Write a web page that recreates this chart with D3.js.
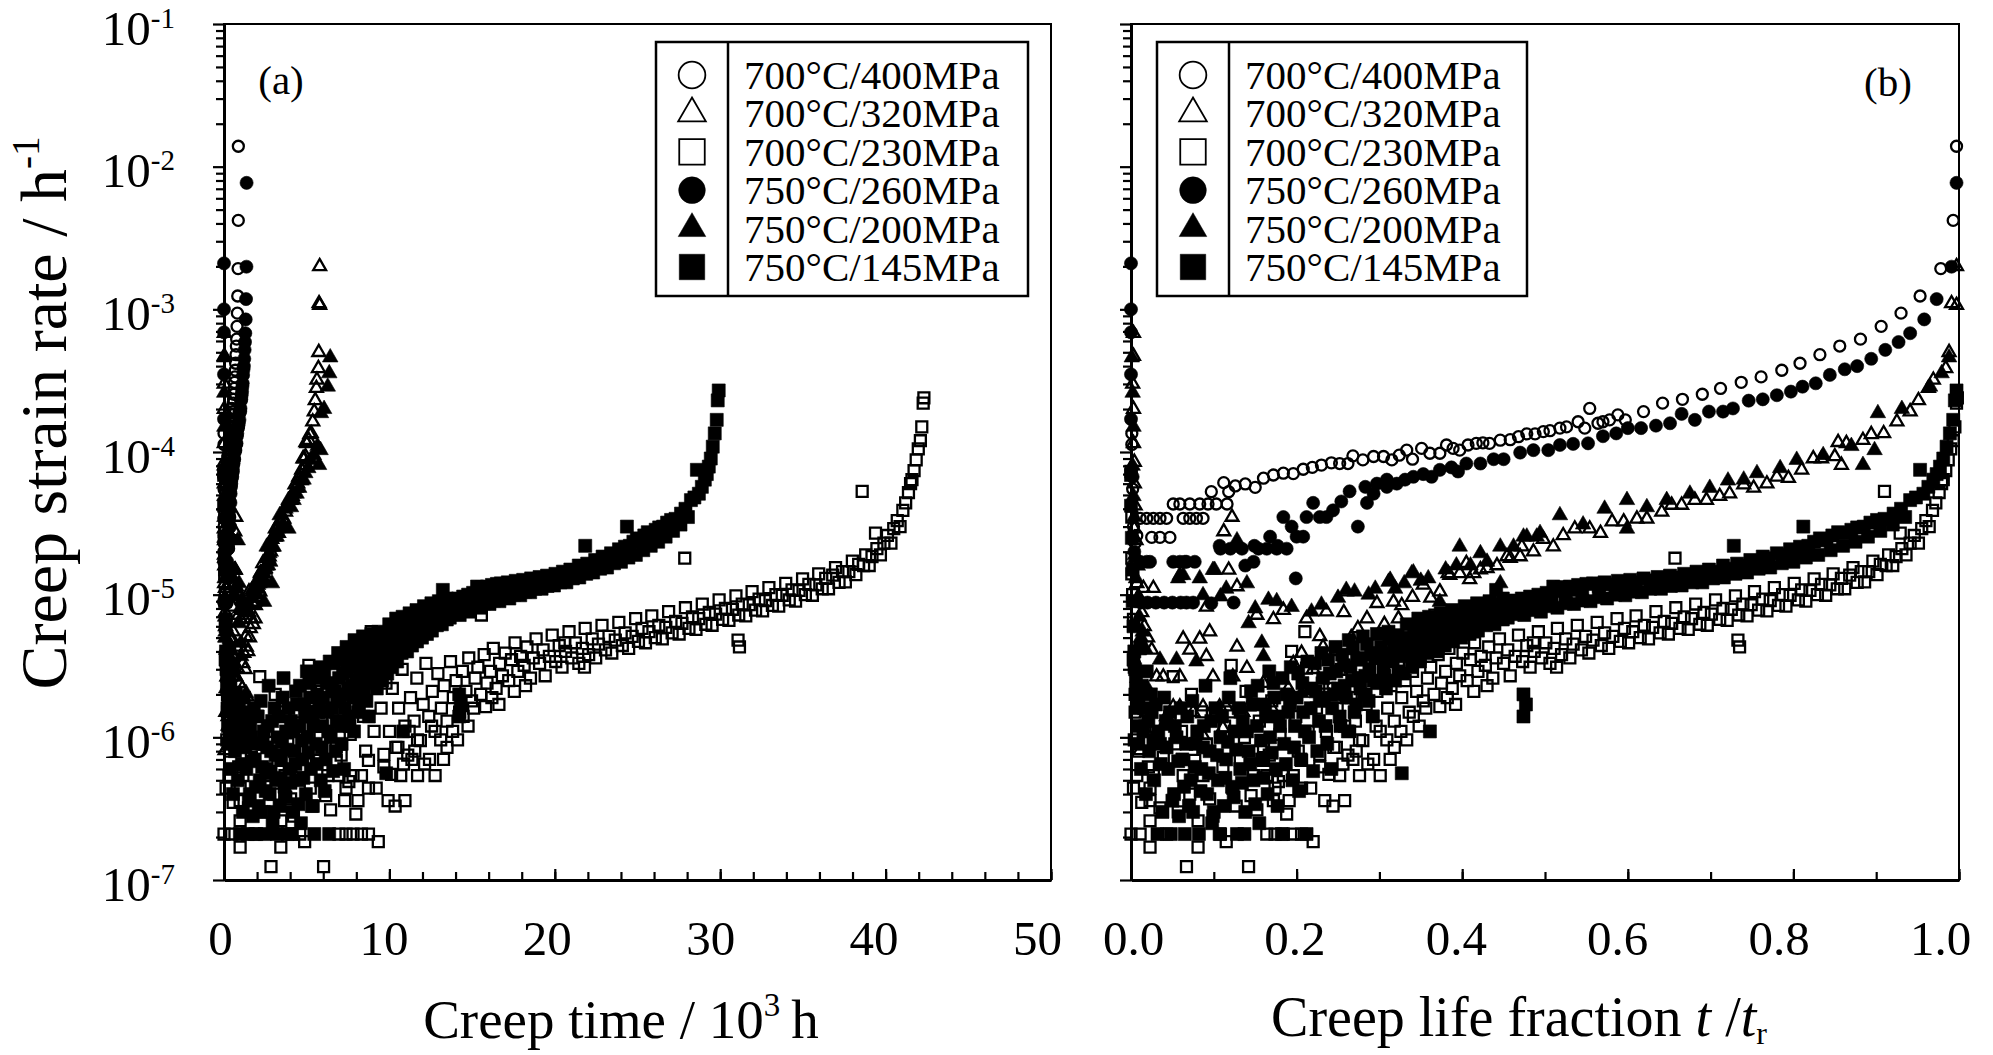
<!DOCTYPE html>
<html><head><meta charset="utf-8">
<script src="https://cdn.jsdelivr.net/npm/d3@7"></script>
<style>
body{margin:0;background:#fff;}
svg{display:block;}
text{font-family:"Liberation Serif","Times New Roman",serif;fill:#000;}
</style></head><body>
<svg id="chart" width="1993" height="1055"></svg>
<script>
// ---------------- DATA ----------------
const seriesNames = ["700°C/400MPa","700°C/320MPa","700°C/230MPa","750°C/260MPa","750°C/200MPa","750°C/145MPa"];
// rupture times (10^3 h)
const ruptureTimes = [0.87, 5.8, 42.4, 1.37, 6.5, 30.0];
// axis ticks / labels
const xTicksA = [0,10,20,30,40,50];
const xTicksB = [0,0.2,0.4,0.6,0.8,1.0];
const yTickExponents = [-7,-6,-5,-4,-3,-2,-1];

// [life fraction t/tr, creep strain rate (1/h)]
const s700_400 = [[0.001,1.35e-4],[0.001,1.13e-4],[0.002,5.5e-5],[0.003,3.0e-5],[0.005,2.3e-5],[0.007,2.6e-5],
[0.011,3.43e-5],[0.019,3.43e-5],[0.027,3.43e-5],[0.035,3.43e-5],[0.043,3.43e-5],[0.063,3.43e-5],[0.071,3.43e-5],[0.079,3.43e-5],[0.087,3.43e-5],
[0.025,2.52e-5],[0.035,2.52e-5],[0.047,2.52e-5],
[0.051,4.32e-5],[0.059,4.32e-5],[0.071,4.32e-5],[0.083,4.32e-5],[0.093,4.32e-5],[0.103,4.32e-5],[0.116,4.32e-5],
[0.097,5.27e-5],[0.112,6.1e-5],[0.118,5.27e-5],[0.126,5.78e-5],[0.138,5.97e-5],[0.150,5.65e-5],[0.160,6.55e-5],[0.172,6.9e-5],[0.184,7.1e-5],[0.196,7.05e-5],[0.208,7.57e-5],[0.219,7.8e-5],[0.230,8.1e-5],[0.242,8.4e-5],[0.252,8.3e-5],[0.262,8.3e-5],[0.268,9.4e-5],[0.280,8.8e-5],[0.293,9.3e-5],[0.305,9.3e-5],[0.315,8.8e-5],[0.324,9.5e-5],[0.333,1.03e-4],[0.340,8.9e-5],[0.351,1.06e-4],[0.361,9.8e-5],[0.373,9.8e-5],[0.381,1.12e-4],[0.389,1.06e-4],[0.397,1.03e-4],[0.407,1.12e-4],[0.417,1.15e-4],[0.425,1.16e-4],[0.433,1.15e-4],[0.446,1.21e-4],[0.458,1.22e-4],[0.468,1.28e-4],[0.478,1.34e-4],[0.488,1.34e-4],[0.498,1.39e-4],[0.506,1.41e-4],[0.518,1.47e-4],[0.526,1.5e-4],[0.540,1.63e-4],[0.548,1.47e-4],[0.554,2.02e-4],[0.564,1.59e-4],[0.570,1.63e-4],[0.578,1.68e-4],[0.588,1.82e-4],[0.597,1.68e-4],[0.619,1.92e-4],[0.642,2.2e-4],[0.666,2.34e-4],[0.690,2.54e-4],[0.712,2.79e-4],[0.737,3.08e-4],[0.761,3.36e-4],[0.786,3.74e-4],[0.808,4.19e-4],[0.832,4.81e-4],[0.856,5.53e-4],[0.881,6.18e-4],[0.906,7.6e-4],[0.930,9.4e-4],[0.953,1.24e-3],[0.978,1.93e-3],[0.993,4.2e-3],[0.997,1.39e-2]];

const s700_320 = [[0.003,6.8e-4],[0.003,4.7e-4],[0.002,3.0e-4],[0.003,2.0e-4],[0.003,1.15e-4],[0.004,8.5e-5],[0.004,6.0e-5],[0.005,4.2e-5],[0.004,2.9e-5],[0.006,2.4e-5],[0.005,1.9e-5],[0.008,1.6e-5],[0.007,1.2e-5],[0.010,9.5e-6],[0.013,7.5e-6],[0.016,6.0e-6],[0.020,5.0e-6],[0.015,1.11e-5],[0.027,1.11e-5],[0.025,4.1e-6],
[0.011,8.1e-7],[0.019,1.5e-6],[0.031,2.66e-6],[0.039,2.66e-6],[0.043,1.4e-6],[0.051,1.64e-6],[0.059,1.64e-6],[0.059,2.66e-6],[0.063,4.9e-6],[0.071,4.1e-6],[0.075,1.5e-6],[0.083,4.9e-6],[0.087,1.64e-6],[0.087,1.03e-6],[0.091,3.7e-6],[0.091,8.2e-6],[0.095,5.5e-6],[0.099,2.66e-6],[0.107,1.64e-6],[0.111,1.16e-6],[0.112,2.77e-5],[0.115,1.64e-6],[0.118,1.49e-5],[0.122,3.5e-5],[0.123,2.66e-6],[0.128,4.3e-6],[0.128,1.14e-5],[0.135,1.5e-6],[0.140,3.05e-6],[0.142,1.64e-6],[0.152,7.2e-6],[0.160,2.4e-6],[0.170,1.6e-6],[0.172,6.7e-6],[0.184,7.8e-6],[0.190,2.2e-6],[0.196,3.3e-6],[0.206,3.9e-6],[0.212,6.8e-6],[0.220,3.0e-6],[0.228,5.1e-6],[0.232,4.3e-6],[0.236,7.6e-6],[0.240,1.93e-6],[0.248,4.0e-6],[0.257,7.5e-6],[0.260,1.05e-5],[0.266,5.0e-6],[0.274,5.8e-6],[0.285,6.8e-6],[0.297,8.7e-6],[0.306,6.2e-6],[0.317,8.9e-6],[0.323,6.8e-6],[0.327,8.4e-6],[0.340,9.6e-6],[0.353,1.17e-5],[0.362,9.5e-6],[0.373,1.05e-5],[0.383,1.41e-5],[0.385,1.37e-5],[0.397,1.41e-5],[0.405,1.66e-5],[0.409,1.28e-5],[0.414,1.41e-5],[0.422,1.5e-5],[0.430,1.53e-5],[0.442,1.6e-5],[0.454,1.85e-5],[0.458,1.8e-5],[0.470,1.85e-5],[0.472,2.17e-5],[0.486,2.0e-5],[0.498,2.45e-5],[0.510,2.17e-5],[0.522,2.6e-5],[0.536,2.9e-5],[0.554,2.9e-5],[0.567,2.7e-5],[0.581,3.25e-5],[0.595,3.25e-5],[0.611,3.4e-5],[0.623,3.4e-5],[0.641,3.8e-5],[0.653,4.25e-5],[0.665,4.25e-5],[0.681,4.6e-5],[0.695,4.6e-5],[0.711,4.9e-5],[0.723,5.1e-5],[0.740,5.9e-5],[0.752,5.6e-5],[0.768,6.0e-5],[0.780,6.7e-5],[0.794,6.55e-5],[0.810,7.5e-5],[0.824,9.0e-5],[0.834,9.0e-5],[0.850,9.3e-5],[0.854,1.17e-4],[0.858,8.1e-5],[0.864,1.15e-4],[0.884,1.21e-4],[0.894,1.33e-4],[0.909,1.35e-4],[0.925,1.63e-4],[0.941,1.92e-4],[0.951,2.3e-4],[0.963,2.8e-4],[0.969,3.2e-4],[0.984,3.86e-4],[0.988,5.0e-4],[0.991,1.1e-3],[0.997,1.07e-3],[0.997,2.0e-3]];

const s700_230 = [[0.000,7.3e-5],[0.001,3.5e-5],[0.001,1.8e-5],[0.001,1.4e-5],[0.002,1.0e-5],[0.003,6.7e-6],[0.004,3.1e-6],[0.005,2.0e-6],[0.004,9.6e-7],[0.003,4.4e-7],[0.007,5.4e-7],[0.011,2.1e-7],[0.000,2.1e-7],
[0.005,1.5e-6],[0.009,8.0e-7],[0.013,3.5e-7],[0.017,1.2e-6],[0.021,6.2e-7],[0.031,1.0e-6],[0.039,7.2e-7],[0.043,2.1e-7],[0.047,1.4e-6],[0.057,3.0e-7],[0.061,1.1e-6],[0.071,4.0e-7],[0.073,2.0e-6],[0.091,9.0e-7],[0.099,2.8e-7],[0.111,6.2e-7],[0.113,1.2e-6],[0.127,3.3e-7],[0.137,1.0e-6],[0.139,2.1e-6],[0.145,3.9e-7],[0.155,1.3e-6],[0.167,7.5e-7],[0.170,1.8e-6],[0.178,4.9e-7],[0.180,1.05e-6],[0.191,3.6e-7],[0.199,1.4e-6],[0.202,8.0e-7],[0.214,1.1e-6],[0.217,4.4e-7],[0.224,1.6e-6],[0.231,2.4e-6],[0.239,5.5e-7],[0.248,8.5e-7],[0.256,6.5e-7],[0.264,1.1e-6],[0.272,8.0e-7],[0.286,6.5e-7],[0.296,1.2e-6],[0.318,8.5e-7],[0.326,1.1e-6],[0.348,1.2e-6],[0.356,1.6e-6],[0.382,1.9e-6],[0.392,1.7e-6],
[0.023,1.7e-7],[0.023,2.6e-7],[0.023,3.6e-7],[0.023,4.4e-7],[0.027,5.4e-7],[0.035,3.2e-7],[0.051,2.66e-6],[0.053,9.0e-7],[0.063,5.4e-7],[0.067,1.24e-7],[0.077,6.9e-7],[0.081,1.7e-7],[0.081,2.6e-7],[0.085,1.51e-6],[0.087,5.4e-7],[0.095,3.7e-7],[0.103,1.51e-6],[0.108,2.1e-7],[0.115,1.86e-7],[0.120,1.51e-6],[0.121,3.2e-6],[0.123,4.4e-7],[0.132,6.9e-7],[0.132,1.51e-6],[0.142,1.24e-7],[0.148,5.4e-7],[0.152,3.1e-7],[0.160,6.9e-7],[0.160,8.6e-7],[0.164,2.1e-7],[0.164,5.4e-7],[0.172,3.6e-7],[0.174,2.1e-7],[0.174,4.4e-7],[0.184,2.1e-7],[0.184,5.4e-7],[0.188,2.9e-7],[0.194,4.0e-6],[0.196,2.1e-7],[0.196,5.4e-7],[0.206,2.1e-7],[0.206,4.4e-7],[0.206,6.9e-7],[0.210,5.5e-6],[0.212,3.05e-6],[0.220,1.86e-7],[0.228,6.2e-7],[0.228,7.6e-7],[0.234,3.6e-7],[0.244,3.3e-7],[0.252,5.4e-7],[0.258,3.6e-7],[0.268,7.0e-7],[0.276,5.4e-7],[0.276,9.6e-7],[0.293,7.0e-7],[0.301,5.4e-7],[0.309,9.6e-7],[0.313,7.0e-7],[0.333,9.6e-7],[0.341,1.4e-6],[0.367,7.2e-6],
[0.236,1.1e-6],[0.240,2.2e-6],[0.245,8.5e-7],[0.249,1.6e-6],[0.254,3.0e-6],[0.258,1.2e-6],[0.262,7.5e-7],[0.266,1.9e-6],[0.271,1.3e-6],[0.275,2.6e-6],[0.280,9.5e-7],[0.284,1.7e-6],[0.288,3.3e-6],[0.292,1.4e-6],[0.297,2.1e-6],[0.301,1.1e-6],[0.305,2.8e-6],[0.310,1.6e-6],[0.314,2.3e-6],[0.318,1.3e-6],[0.323,3.4e-6],[0.327,1.9e-6],[0.331,2.5e-6],[0.336,1.5e-6],[0.340,2.9e-6],[0.345,2.1e-6],[0.349,3.6e-6],[0.353,1.8e-6],[0.358,2.6e-6],[0.362,3.1e-6],[0.366,2.0e-6],[0.371,3.8e-6],[0.373,1.64e-6],[0.375,2.4e-6],[0.380,2.9e-6],[0.384,4.2e-6],[0.388,2.2e-6],[0.393,3.3e-6],[0.397,2.7e-6],[0.401,3.9e-6],[0.406,2.5e-6],[0.410,3.5e-6],[0.414,2.1e-6],[0.415,4.6e-6],[0.419,2.9e-6],[0.423,3.7e-6],[0.428,3.2e-6],[0.430,2.3e-6],[0.432,4.3e-6],[0.437,2.6e-6],[0.441,3.6e-6],[0.445,4.9e-6],[0.450,3.3e-6],
[0.455,4.1e-6],[0.458,2.7e-6],[0.464,3.7e-6],[0.468,5.2e-6],[0.473,3.4e-6],[0.478,4.4e-6],[0.482,3.1e-6],[0.486,4.6e-6],[0.487,4.0e-6],[0.492,5.5e-6],[0.496,3.6e-6],[0.501,4.6e-6],[0.506,3.3e-6],[0.511,4.2e-6],[0.514,3.1e-6],[0.515,5.8e-6],[0.520,3.8e-6],[0.525,4.9e-6],[0.530,3.6e-6],[0.534,4.5e-6],[0.539,6.1e-6],[0.544,4.1e-6],[0.549,5.1e-6],[0.553,3.9e-6],[0.558,4.8e-6],[0.563,6.4e-6],[0.568,4.4e-6],[0.572,5.4e-6],[0.577,4.2e-6],[0.582,5.1e-6],[0.587,6.8e-6],[0.591,4.7e-6],[0.596,5.8e-6],[0.601,4.6e-6],[0.606,5.5e-6],[0.610,7.1e-6],[0.615,5.0e-6],[0.620,6.1e-6],[0.625,4.9e-6],[0.630,5.9e-6],[0.634,7.6e-6],[0.639,5.4e-6],[0.644,6.5e-6],[0.649,5.3e-6],[0.653,6.3e-6],[0.657,1.8e-5],[0.658,8.1e-6],[0.663,5.8e-6],[0.668,7.0e-6],[0.673,5.7e-6],[0.677,6.8e-6],[0.682,8.6e-6],[0.687,6.2e-6],[0.692,7.5e-6],[0.696,6.1e-6],[0.701,7.3e-6],[0.706,9.2e-6],[0.711,6.7e-6],[0.715,8.0e-6],[0.720,6.6e-6],[0.725,7.9e-6],[0.730,9.8e-6],[0.733,4.8e-6],[0.735,4.3e-6],[0.734,7.2e-6],[0.739,8.6e-6],[0.744,7.1e-6],[0.749,8.5e-6],[0.753,1.05e-5],[0.758,7.8e-6],[0.763,9.3e-6],[0.768,7.7e-6],[0.772,9.1e-6],[0.777,1.12e-5],[0.782,8.4e-6],[0.787,1.0e-5],[0.791,8.3e-6],[0.796,9.9e-6],[0.801,1.2e-5],[0.806,9.2e-6],[0.810,1.08e-5],[0.815,9.0e-6],[0.820,1.07e-5],[0.825,1.29e-5],[0.829,1.0e-5],[0.834,1.18e-5],[0.839,9.9e-6],[0.844,1.17e-5],[0.848,1.4e-5],[0.853,1.1e-5],[0.858,1.3e-5],[0.862,1.1e-5],[0.868,1.37e-5],[0.872,1.55e-5],[0.877,1.22e-5],[0.882,1.45e-5],[0.886,1.23e-5],[0.891,1.45e-5],[0.896,1.72e-5],[0.901,1.38e-5],[0.905,1.63e-5],[0.910,5.3e-5],[0.912,1.6e-5],[0.915,1.9e-5],[0.920,1.6e-5],[0.924,1.85e-5],[0.929,2.7e-5],[0.931,2.1e-5],[0.936,1.9e-5],[0.941,2.3e-5],[0.946,2.6e-5],[0.951,2.3e-5],[0.955,2.9e-5],[0.960,3.3e-5],[0.964,3.0e-5],[0.968,3.9e-5],[0.972,4.4e-5],[0.976,5.2e-5],[0.979,6.0e-5],[0.981,6.4e-5],[0.984,7.4e-5],[0.987,8.8e-5],[0.990,1.05e-4],[0.993,1.2e-4],[0.995,1.5e-4],[0.997,2.2e-4],[0.998,2.4e-4]];

const s750_260 = [[0.0,2.1e-3],[0.0,1.0e-3],[0.0,6.9e-4],[0.0,3.5e-4],[0.0,1.7e-4],[0.002,6.7e-5],[0.004,2.0e-5],[0.006,9.0e-6],
[0.012,8.8e-6],[0.020,8.8e-6],[0.030,8.8e-6],[0.040,8.8e-6],[0.050,8.8e-6],[0.060,8.8e-6],[0.067,8.8e-6],[0.075,8.8e-6],
[0.011,1.7e-5],[0.019,1.7e-5],[0.023,1.7e-5],[0.051,1.7e-5],[0.059,1.7e-5],[0.065,1.7e-5],[0.067,1.7e-5],[0.077,1.7e-5],
[0.097,8.7e-6],[0.124,8.8e-6],[0.107,2.2e-5],[0.108,2.1e-5],[0.120,2.1e-5],[0.128,2.2e-5],[0.134,2.1e-5],[0.138,1.6e-5],[0.148,1.7e-5],[0.149,2.2e-5],[0.154,2.1e-5],[0.164,2.1e-5],[0.168,2.55e-5],[0.176,2.1e-5],[0.177,2.2e-5],[0.184,3.5e-5],[0.188,2.1e-5],[0.194,3.0e-5],[0.199,1.3e-5],[0.200,2.55e-5],[0.208,2.55e-5],[0.212,3.5e-5],[0.220,4.4e-5],[0.228,3.5e-5],[0.236,3.5e-5],[0.244,3.9e-5],[0.254,4.5e-5],[0.264,5.3e-5],[0.274,3.0e-5],[0.283,5.7e-5],[0.285,4.4e-5],[0.293,5.1e-5],[0.297,6.0e-5],[0.309,5.7e-5],[0.309,6.4e-5],[0.321,6.0e-5],[0.331,6.4e-5],[0.341,6.7e-5],[0.353,7.0e-5],[0.363,6.7e-5],[0.373,7.5e-5],[0.387,7.8e-5],[0.395,7.3e-5],[0.405,8.3e-5],[0.422,8.3e-5],[0.438,8.9e-5],[0.450,8.9e-5],[0.470,9.9e-5],[0.486,1.03e-4],[0.504,1.03e-4],[0.518,1.12e-4],[0.534,1.14e-4],[0.552,1.15e-4],[0.570,1.29e-4],[0.586,1.35e-4],[0.600,1.47e-4],[0.616,1.47e-4],[0.634,1.53e-4],[0.651,1.59e-4],[0.665,1.85e-4],[0.681,1.68e-4],[0.698,1.92e-4],[0.715,1.92e-4],[0.727,2.02e-4],[0.746,2.29e-4],[0.763,2.34e-4],[0.780,2.5e-4],[0.797,2.65e-4],[0.811,2.87e-4],[0.827,3.03e-4],[0.844,3.47e-4],[0.862,3.8e-4],[0.877,4.0e-4],[0.894,4.5e-4],[0.911,5.2e-4],[0.927,5.9e-4],[0.941,6.8e-4],[0.958,8.5e-4],[0.973,1.18e-3],[0.991,1.99e-3],[0.997,7.7e-3]];

const s750_200 = [[0.001,4.6e-4],[0.002,2.6e-4],[0.003,1.5e-4],[0.002,8.0e-5],[0.003,4.9e-5],[0.004,3.5e-5],[0.004,2.5e-5],[0.005,1.8e-5],[0.006,1.3e-5],[0.008,9.5e-6],[0.010,7.0e-6],[0.012,5.0e-6],[0.014,5.5e-6],[0.017,4.2e-6],[0.020,2.2e-6],
[0.035,3.5e-6],[0.039,1.2e-6],[0.055,3.5e-6],[0.057,1.3e-5],[0.059,1.37e-5],[0.063,1.37e-5],[0.079,3.4e-6],[0.083,1.3e-5],[0.087,9.9e-6],[0.099,1.49e-5],[0.101,1.49e-5],[0.108,9.7e-6],[0.115,1.1e-5],[0.128,2.4e-5],[0.140,1.2e-5],[0.142,6.3e-6],[0.150,8.0e-6],[0.158,4.6e-6],[0.160,3.7e-6],[0.166,9.2e-6],[0.176,9.0e-6],[0.194,8.2e-6],[0.206,2.04e-6],[0.218,7.6e-6],[0.230,8.5e-6],[0.250,9.5e-6],[0.260,1.08e-5],[0.270,1.05e-5],[0.287,1.0e-5],[0.295,1.1e-5],[0.311,1.23e-5],[0.313,1.27e-5],[0.319,1.1e-5],[0.330,1.2e-5],[0.339,1.41e-5],[0.341,1.43e-5],[0.350,1.25e-5],[0.359,1.3e-5],[0.373,8.9e-6],[0.380,1.5e-5],[0.393,1.6e-5],[0.397,2.17e-5],[0.410,1.6e-5],[0.422,1.95e-5],[0.430,1.7e-5],[0.446,2.17e-5],[0.446,1.2e-5],[0.462,2.17e-5],[0.474,2.55e-5],[0.478,2.55e-5],[0.490,2.55e-5],[0.494,2.7e-5],[0.518,3.6e-5],[0.546,3.1e-5],[0.572,4.0e-5],[0.599,4.6e-5],[0.599,2.9e-5],[0.623,4.1e-5],[0.647,4.6e-5],[0.675,5.1e-5],[0.699,5.6e-5],[0.721,6.3e-5],[0.740,6.4e-5],[0.756,7.1e-5],[0.784,7.7e-5],[0.804,8.8e-5],[0.836,9.5e-5],[0.870,1.1e-4],[0.884,8.1e-5],[0.898,1.03e-4],[0.902,1.87e-4],[0.931,2.0e-4],[0.965,2.87e-4],[0.979,3.56e-4],[0.988,4.6e-4]];

const s750_145 = [[0.000,6.9e-5],[0.000,4.2e-5],[0.001,2.5e-5],[0.002,1.5e-5],[0.002,9.0e-6],[0.003,6.0e-6],[0.004,4.0e-6],[0.005,3.0e-6],[0.006,2.2e-6],[0.007,1.6e-6],[0.008,1.2e-6],[0.009,9.0e-7],
[0.003,3.5e-6],[0.006,2.7e-6],[0.009,1.9e-6],[0.011,4.2e-6],[0.013,2.3e-6],[0.016,1.6e-6],[0.019,2.9e-6],[0.021,1.3e-6],[0.024,2.0e-6],[0.027,9.5e-7],[0.030,1.7e-6],[0.033,1.1e-6],[0.036,6.5e-7],[0.040,1.9e-6],[0.043,8.5e-7],[0.047,1.5e-6],[0.050,3.6e-7],[0.053,1.2e-6],[0.057,6.8e-7],[0.060,1.6e-6],[0.064,4.5e-7],[0.067,9.0e-7],[0.070,3.3e-7],[0.074,1.8e-6],[0.077,6.2e-7],[0.080,1.1e-6],[0.084,4.2e-7],[0.087,8.5e-7],[0.090,2.3e-6],[0.094,5.6e-7],[0.097,1.3e-6],[0.100,3.0e-7],[0.104,7.5e-7],[0.107,2.1e-7],[0.110,1.4e-6],[0.114,5.2e-7],[0.117,9.3e-7],[0.120,2.6e-6],[0.124,3.8e-7],[0.127,8.2e-7],[0.130,1.6e-6],[0.134,4.8e-7],[0.137,2.1e-7],[0.140,1.1e-6],[0.144,6.5e-7],[0.147,1.7e-6],[0.150,3.4e-7],
[0.012,6.0e-7],[0.015,1.1e-6],[0.018,4.0e-7],[0.022,8.0e-7],[0.025,1.5e-6],[0.028,5.0e-7],[0.032,2.1e-7],[0.035,9.0e-7],[0.038,3.0e-7],[0.042,1.3e-6],[0.045,6.0e-7],[0.048,2.1e-7],[0.052,4.0e-7],[0.055,1.0e-6],[0.058,2.8e-7],[0.062,7.0e-7],[0.065,2.1e-7],[0.068,1.4e-6],[0.072,5.0e-7],[0.075,3.0e-7],[0.078,9.0e-7],[0.082,2.1e-7],[0.085,6.0e-7],[0.088,1.2e-6],[0.092,4.0e-7],[0.095,8.0e-7],[0.098,2.5e-7],[0.102,1.6e-6],[0.105,5.0e-7],[0.108,1.0e-6],[0.112,3.3e-7],[0.115,7.0e-7],[0.118,1.9e-6],[0.122,4.5e-7],[0.125,1.1e-6],[0.128,2.1e-7],[0.132,6.0e-7],[0.135,1.3e-6],[0.138,3.0e-7],[0.142,8.0e-7],[0.145,2.1e-6],[0.148,5.0e-7],
[0.153,2.3e-6],[0.157,9.5e-7],[0.160,5.2e-7],[0.163,1.4e-6],[0.167,2.9e-6],[0.170,7.8e-7],[0.173,1.9e-6],[0.177,3.3e-7],[0.180,1.2e-6],[0.183,2.6e-6],[0.187,6.5e-7],[0.190,1.5e-6],[0.193,3.1e-6],[0.197,8.5e-7],[0.200,1.9e-6],[0.203,4.2e-7],[0.207,2.4e-6],[0.210,1.1e-6],[0.213,3.4e-6],[0.217,1.6e-6],[0.220,5.8e-7],[0.223,2.1e-6],[0.227,1.3e-6],[0.230,3.9e-6],[0.233,1.9e-6],[0.237,9.0e-7],[0.240,2.8e-6],[0.243,1.6e-6],[0.247,4.3e-6],[0.250,2.2e-6],[0.253,1.2e-6],[0.257,3.2e-6],[0.260,1.9e-6],[0.263,4.8e-6],[0.267,2.5e-6],[0.270,1.5e-6],[0.273,3.5e-6],[0.277,2.2e-6],[0.280,5.1e-6],[0.283,2.7e-6],[0.287,1.8e-6],[0.290,3.8e-6],[0.293,2.5e-6],[0.297,5.3e-6],
[0.152,1.2e-6],[0.155,2.5e-7],[0.158,7.0e-7],[0.162,1.7e-6],[0.165,4.0e-7],[0.168,1.0e-6],[0.172,2.4e-6],[0.175,6.0e-7],[0.178,1.4e-6],[0.182,2.1e-7],[0.185,9.0e-7],[0.188,2.0e-6],[0.192,1.73e-6],[0.195,5.0e-7],[0.198,1.2e-6],[0.202,2.8e-6],[0.205,7.0e-7],[0.208,1.5e-6],[0.212,2.1e-7],[0.215,1.0e-6],[0.218,2.2e-6],[0.222,3.3e-6],[0.225,8.0e-7],[0.228,1.8e-6],[0.232,2.6e-6],[0.235,1.2e-6],[0.238,3.5e-6],[0.242,6.0e-7],[0.245,2.0e-6],[0.248,2.9e-6],[0.252,1.4e-6],[0.255,3.8e-6],[0.258,2.3e-6],[0.262,1.1e-6],[0.265,3.1e-6],[0.268,4.2e-6],[0.272,1.7e-6],[0.275,2.6e-6],[0.278,3.6e-6],[0.282,2.0e-6],[0.285,4.5e-6],[0.288,3.0e-6],[0.292,1.4e-6],[0.295,3.6e-6],[0.297,3.9e-6],[0.298,2.4e-6],
[0.301,3.6e-6],[0.306,2.7e-6],[0.311,5.5e-6],[0.314,3.9e-6],[0.318,4.6e-6],[0.323,2.9e-6],[0.328,4.4e-6],[0.333,6.2e-6],[0.337,3.8e-6],[0.343,4.9e-6],[0.347,6.8e-6],[0.351,4.1e-6],[0.356,5.3e-6],[0.360,7.0e-6],[0.365,4.5e-6],[0.370,5.7e-6],[0.374,7.4e-6],[0.378,5.0e-6],[0.383,6.1e-6],[0.388,7.8e-6],[0.393,5.5e-6],[0.398,6.6e-6],[0.403,8.3e-6],[0.408,6.0e-6],[0.413,7.0e-6],[0.418,8.7e-6],[0.423,6.5e-6],[0.428,7.5e-6],[0.433,9.0e-6],[0.438,7.0e-6],[0.444,7.9e-6],[0.449,9.4e-6],
[0.302,4.3e-6],[0.305,3.1e-6],[0.308,2.2e-6],[0.312,4.9e-6],[0.316,3.4e-6],[0.319,2.5e-6],[0.322,5.2e-6],[0.325,3.7e-6],[0.327,5.6e-7],[0.329,2.8e-6],[0.332,5.0e-6],[0.336,4.2e-6],[0.339,3.1e-6],[0.342,5.8e-6],[0.346,4.3e-6],[0.349,3.4e-6],[0.352,6.1e-6],[0.355,4.6e-6],[0.358,3.9e-6],[0.361,1.1e-6],[0.363,5.8e-6],[0.366,5.1e-6],[0.369,4.0e-6],[0.371,6.5e-6],[0.375,5.5e-6],[0.379,4.4e-6],[0.382,6.9e-6],[0.386,5.4e-6],[0.389,4.7e-6],[0.392,7.2e-6],[0.396,6.0e-6],[0.399,5.0e-6],[0.402,7.1e-6],[0.406,6.3e-6],[0.409,5.3e-6],[0.412,7.7e-6],[0.416,6.4e-6],[0.419,5.6e-6],[0.422,8.0e-6],[0.426,6.6e-6],[0.429,6.1e-6],[0.432,8.1e-6],[0.436,7.2e-6],[0.439,6.2e-6],[0.441,1.08e-5],[0.443,8.6e-6],[0.446,7.3e-6],[0.449,6.7e-6],
[0.455,6.9e-6],[0.465,7.3e-6],[0.475,7.2e-6],[0.485,7.8e-6],[0.495,7.6e-6],[0.505,8.3e-6],[0.515,8.1e-6],[0.525,8.7e-6],[0.535,8.6e-6],[0.545,9.1e-6],[0.555,9.0e-6],[0.565,9.6e-6],[0.575,9.4e-6],[0.585,1.0e-5],[0.597,9.9e-6],[0.607,1.05e-5],[0.617,1.04e-5],[0.627,1.1e-5],[0.640,1.1e-5],[0.652,1.15e-5],[0.665,1.16e-5],[0.678,1.22e-5],[0.690,1.22e-5],[0.703,1.3e-5],[0.716,1.32e-5],[0.730,1.4e-5],[0.744,1.43e-5],[0.758,1.52e-5],[0.772,1.55e-5],[0.786,1.66e-5],[0.800,1.7e-5],[0.815,1.82e-5],[0.830,1.9e-5],[0.845,2.05e-5],[0.860,2.2e-5],[0.875,2.35e-5],[0.890,2.55e-5],[0.905,2.8e-5],[0.920,3.1e-5],[0.935,3.5e-5],
[0.452,8.8e-6],[0.458,7.8e-6],[0.462,9.1e-6],[0.468,8.2e-6],[0.472,9.4e-6],[0.474,2.0e-6],[0.474,1.4e-6],[0.477,1.7e-6],[0.478,8.6e-6],[0.482,9.7e-6],[0.488,9.0e-6],[0.492,1.0e-5],[0.498,9.3e-6],[0.502,1.03e-5],[0.508,9.6e-6],[0.510,1.14e-5],[0.515,1.06e-5],[0.520,1.13e-5],[0.525,1.0e-5],[0.530,1.14e-5],[0.535,1.08e-5],[0.540,1.17e-5],[0.545,1.1e-5],[0.550,1.19e-5],[0.558,1.2e-5],[0.565,1.15e-5],[0.572,1.22e-5],[0.580,1.18e-5],[0.588,1.25e-5],[0.595,1.2e-5],[0.603,1.27e-5],[0.610,1.22e-5],[0.619,1.3e-5],[0.628,1.26e-5],[0.636,1.33e-5],[0.645,1.3e-5],[0.651,1.36e-5],[0.660,1.32e-5],[0.668,1.4e-5],[0.675,1.36e-5],[0.683,1.45e-5],[0.690,1.4e-5],[0.698,1.5e-5],[0.706,1.45e-5],[0.715,1.6e-5],[0.722,1.52e-5],[0.728,2.2e-5],[0.732,1.65e-5],[0.740,1.6e-5],[0.748,1.75e-5],[0.755,1.7e-5],[0.763,1.85e-5],[0.770,1.8e-5],[0.780,1.95e-5],[0.788,1.9e-5],[0.796,2.08e-5],[0.804,2.0e-5],[0.808,2.17e-5],[0.812,3.0e-5],[0.818,2.2e-5],[0.825,2.35e-5],[0.832,2.48e-5],[0.840,2.4e-5],[0.847,2.6e-5],[0.854,2.74e-5],[0.862,2.7e-5],[0.870,2.85e-5],[0.877,2.96e-5],[0.885,3.0e-5],[0.893,3.2e-5],[0.901,3.34e-5],[0.910,3.4e-5],[0.921,3.7e-5],[0.930,4.0e-5],[0.941,4.6e-5],[0.948,4.8e-5],[0.953,7.5e-5],[0.957,5.1e-5],[0.963,5.7e-5],[0.969,6.4e-5],[0.973,7.0e-5],[0.977,7.9e-5],[0.981,9.0e-5],[0.985,1.09e-4],[0.989,1.35e-4],[0.993,1.68e-4],[0.995,2.3e-4],[0.997,2.7e-4]];

const seriesData = [s700_400, s700_320, s700_230, s750_260, s750_200, s750_145];

// ---------------- DRAWING ----------------
const svg = d3.select("#chart");
const yTop = 24, yBot = 880;
const y = d3.scaleLog().domain([1e-7, 1e-1]).range([yBot, yTop]);
const xA = d3.scaleLinear().domain([0, 50]).range([224, 1051]);
const xB = d3.scaleLinear().domain([0, 1]).range([1131, 1959]);
// label positions in the original are slightly compressed relative to the ticks
const xALab = d3.scaleLinear().domain([0, 50]).range([220, 1037]);
const xBLab = d3.scaleLinear().domain([0, 1]).range([1133, 1940]);

const styles = [
  {sym: d3.symbolCircle,   fill: false, size: 95},
  {sym: d3.symbolTriangle, fill: false, size: 72},
  {sym: d3.symbolSquare,   fill: false, size: 120},
  {sym: d3.symbolCircle,   fill: true,  size: 135},
  {sym: d3.symbolTriangle, fill: true,  size: 105},
  {sym: d3.symbolSquare,   fill: true,  size: 170},
];

const minorY = [];
for (let e = -7; e < -1; e++) for (let m = 2; m <= 9; m++) minorY.push(m * Math.pow(10, e));
const decades = yTickExponents.map(e => Math.pow(10, e));

function drawPanel(x, xLab, xMajor, xMinor, fmt, getX) {
  const x0 = x.range()[0], x1 = x.range()[1];
  const g = svg.append("g");
  g.append("rect").attr("x", x0).attr("y", yTop).attr("width", x1 - x0).attr("height", yBot - yTop)
    .attr("fill", "none").attr("stroke", "#000").attr("stroke-width", 2);
  g.append("g").attr("transform", `translate(0,${yBot})`)
    .call(d3.axisBottom(x).tickValues(xMinor).tickSize(-8).tickSizeOuter(0).tickFormat(""))
    .call(s => { s.select(".domain").remove(); s.selectAll("line").attr("stroke-width", 2.2); });
  g.append("g").attr("transform", `translate(0,${yBot})`)
    .call(d3.axisBottom(x).tickValues(xMajor).tickSize(-11).tickSizeOuter(0).tickFormat(""))
    .call(s => { s.select(".domain").attr("stroke-width", 3); s.selectAll("line").attr("stroke-width", 2.2); });
  g.append("g").attr("transform", `translate(0,${yBot})`)
    .call(d3.axisBottom(xLab).tickValues(xMajor).tickSize(0).tickPadding(40).tickFormat(fmt))
    .call(s => { s.select(".domain").remove(); s.selectAll("text").attr("font-size", 49).attr("font-family", "Liberation Serif"); });
  g.append("g").attr("transform", `translate(${x0},0)`)
    .call(d3.axisLeft(y).tickValues(minorY).tickSize(8).tickSizeOuter(0).tickFormat(""))
    .call(s => { s.select(".domain").remove(); s.selectAll("line").attr("stroke-width", 2.2); });
  const ya = g.append("g").attr("transform", `translate(${x0},0)`)
    .call(d3.axisLeft(y).tickValues(decades).tickSize(11).tickSizeOuter(0).tickFormat(""))
    .call(s => { s.select(".domain").attr("stroke-width", 3); s.selectAll("line").attr("stroke-width", 2.2); });
  const pg = g.append("g");
  seriesData.forEach((data, i) => {
    const st = styles[i];
    const path = d3.symbol().type(st.sym).size(st.size)();
    pg.append("g").selectAll("path").data(data).join("path")
      .attr("d", path)
      .attr("transform", d => `translate(${x(getX(d, i))},${y(d[1])})`)
      .attr("fill", st.fill ? "#000" : "none")
      .attr("stroke", "#000")
      .attr("stroke-width", st.fill ? 0.6 : 2.3);
  });
  return ya;
}

const yaA = drawPanel(xA, xALab, xTicksA, d3.range(0, 51, 2), d3.format("d"), (d, i) => d[0] * ruptureTimes[i]);
drawPanel(xB, xBLab, xTicksB, d3.range(0, 1.0001, 0.1), d3.format(".1f"), d => d[0]);

// y tick labels on panel (a): 10^n
yaA.selectAll(".tick").each(function(d) {
  const e = Math.round(Math.log10(d));
  const t = d3.select(this).append("text")
    .attr("x", -49).attr("y", 0).attr("dy", 20)
    .attr("text-anchor", "end").attr("font-size", 49).attr("fill", "#000");
  t.append("tspan").text("10");
  t.append("tspan").text(String(e)).attr("font-size", 29).attr("dy", -17);
});

// panel letters
svg.append("text").attr("x", 281).attr("y", 94).attr("text-anchor", "middle").attr("font-size", 41).text("(a)");
svg.append("text").attr("x", 1888).attr("y", 96).attr("text-anchor", "middle").attr("font-size", 41).text("(b)");

// legends
function legend(x0, divX, x1) {
  const g = svg.append("g");
  const top = 42, bot = 296;
  g.append("rect").attr("x", x0).attr("y", top).attr("width", x1 - x0).attr("height", bot - top)
    .attr("fill", "#fff").attr("stroke", "#000").attr("stroke-width", 2.5);
  g.append("line").attr("x1", divX).attr("x2", divX).attr("y1", top).attr("y2", bot)
    .attr("stroke", "#000").attr("stroke-width", 2.5);
  const rowY = d3.scaleLinear().domain([0, 5]).range([75, 267]);
  const legSizes = [560, 330, 650, 560, 330, 650];
  const lt = g.append("text").attr("font-size", 41);
  seriesNames.forEach((name, i) => {
    const st = styles[i];
    g.append("path").attr("d", d3.symbol().type(st.sym).size(legSizes[i])())
      .attr("transform", `translate(${(x0 + divX) / 2},${rowY(i)})`)
      .attr("fill", st.fill ? "#000" : "none").attr("stroke", "#000").attr("stroke-width", st.fill ? 0.5 : 1.8);
    lt.append("tspan").attr("x", divX + 16).attr("y", rowY(i) + 14).text(name);
  });
}
legend(656, 728, 1028);
legend(1157, 1229, 1527);

// axis titles
const tA = svg.append("text").attr("x", 621).attr("y", 1038).attr("text-anchor", "middle").attr("font-size", 55);
tA.append("tspan").text("Creep time / 10");
tA.append("tspan").text("3").attr("font-size", 33).attr("dy", -22);
tA.append("tspan").text("\u2009h").attr("dy", 22);

const tB = svg.append("text").attr("x", 1519).attr("y", 1036).attr("text-anchor", "middle").attr("font-size", 56);
tB.append("tspan").text("Creep life fraction ");
tB.append("tspan").text("t").attr("font-style", "italic");
tB.append("tspan").text(" /");
tB.append("tspan").text("t").attr("font-style", "italic");
tB.append("tspan").text("r").attr("font-size", 32).attr("dy", 8);

const tY = svg.append("text").attr("transform", "translate(66,413) rotate(-90)").attr("text-anchor", "middle").attr("font-size", 66);
tY.append("tspan").text("Creep strain rate / h");
tY.append("tspan").text("-1").attr("font-size", 39).attr("dy", -27);
</script>
</body></html>
